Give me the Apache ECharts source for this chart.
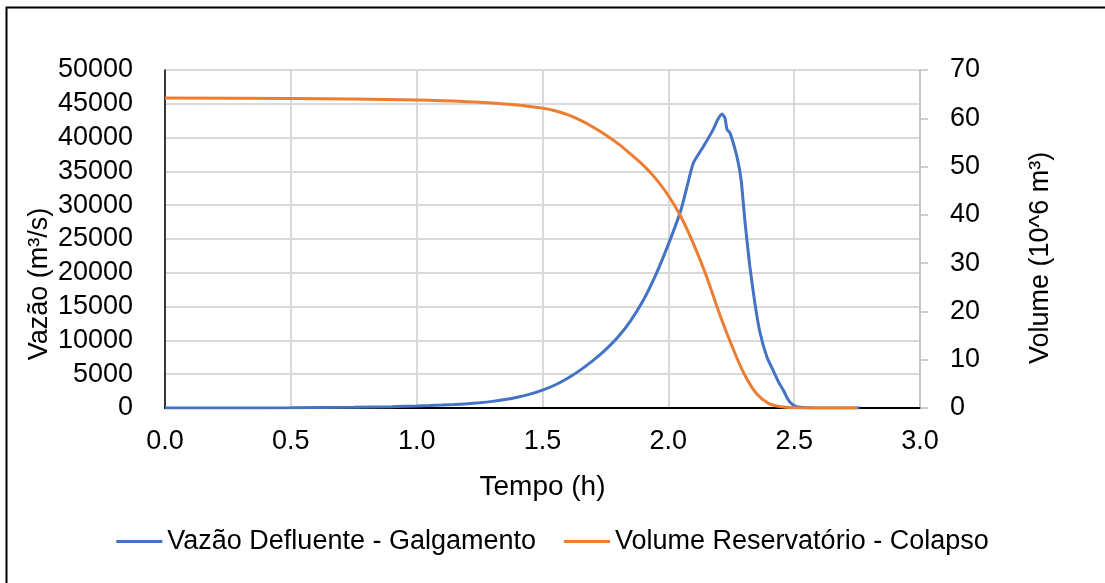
<!DOCTYPE html>
<html>
<head>
<meta charset="utf-8">
<script src="https://cdn.jsdelivr.net/npm/echarts@6/dist/echarts.min.js"></script>
<style>
html,body{margin:0;padding:0;background:#fff;}
#c{width:1105px;height:583px;}
</style>
</head>
<body>
<div id="c"></div>
<script>
// Time (h) for the flow series
var tFlow = [0, 0.25, 0.5, 0.75, 0.9, 1.0, 1.05, 1.1, 1.15, 1.2, 1.25, 1.3, 1.35, 1.4, 1.45, 1.5, 1.55, 1.6, 1.65, 1.7, 1.75, 1.8, 1.85, 1.9, 1.95, 2.0, 2.05, 2.086, 2.1, 2.138, 2.177, 2.197, 2.213, 2.225, 2.233, 2.245, 2.273, 2.289, 2.305, 2.324, 2.344, 2.364, 2.392, 2.416, 2.44, 2.456, 2.475, 2.49, 2.51, 2.55, 2.65, 2.76];
// Vazão Defluente - Galgamento (m³/s)
var flow = [0, 5, 30, 100, 200, 300, 360, 430, 520, 630, 780, 980, 1250, 1600, 2050, 2650, 3400, 4400, 5600, 7000, 8600, 10500, 12900, 15900, 19700, 24200, 29300, 34500, 36300, 38600, 41100, 42700, 43500, 42900, 41200, 40700, 37100, 33800, 27400, 20900, 15500, 11200, 7500, 5600, 3700, 2700, 1300, 600, 200, 50, 10, 0];
// Time (h) for the volume series
var tVol = [0, 0.5, 0.75, 1.0, 1.1, 1.2, 1.3, 1.35, 1.4, 1.45, 1.5, 1.55, 1.6, 1.65, 1.7, 1.75, 1.8, 1.85, 1.9, 1.95, 2.0, 2.05, 2.1, 2.15, 2.2, 2.25, 2.3, 2.35, 2.4, 2.45, 2.5, 2.55, 2.75];
// Volume Reservatório - Colapso (10^6 m³)
var volume = [64.2, 64.1, 64.0, 63.8, 63.65, 63.45, 63.15, 62.95, 62.75, 62.45, 62.1, 61.55, 60.75, 59.6, 58.2, 56.6, 54.75, 52.6, 50.3, 47.5, 44.0, 39.6, 34.0, 27.5, 20.0, 13.2, 7.2, 3.0, 0.9, 0.25, 0.05, 0, 0];

var seriesNames = ['Vazão Defluente - Galgamento', 'Volume Reservatório - Colapso'];
var axisNames = ['Tempo (h)', 'Vazão (m³/s)', 'Volume (10^6 m³)'];

function pairs(xs, ys){ return xs.map(function(x,i){ return [x, ys[i]]; }); }

var FONT = '"Liberation Sans", Arial, sans-serif';
var chart = echarts.init(document.getElementById('c'), null, {renderer:'canvas'});
chart.setOption({
  animation: false,
  backgroundColor: '#fff',
  graphic: [{
    type: 'rect', left: 4, top: 5, silent: true,
    shape: {width: 1120, height: 600},
    style: {fill: 'none', stroke: '#000', lineWidth: 2}
  }, {
    type: 'text', x: 40, y: 284, rotation: Math.PI / 2, silent: true,
    style: {text: axisNames[1], font: '27px ' + FONT, fill: '#000', textAlign: 'center', textVerticalAlign: 'middle'}
  }, {
    type: 'text', x: 1041, y: 258, rotation: Math.PI / 2, silent: true,
    style: {text: axisNames[2], font: '27px ' + FONT, fill: '#000', textAlign: 'center', textVerticalAlign: 'middle'}
  }],
  grid: {left: 165, right: 185, top: 70, bottom: 175, containLabel: false},
  legend: {
    top: 523, left: 'center',
    itemWidth: 46, itemHeight: 3, itemGap: 28,
    icon: 'rect',
    textStyle: {fontFamily: FONT, fontSize: 27, color: '#000'},
    data: seriesNames
  },
  xAxis: {
    type: 'value', min: 0, max: 3, interval: 0.5,
    name: axisNames[0], nameLocation: 'middle', nameGap: 65,
    nameTextStyle: {fontFamily: FONT, fontSize: 28, color: '#000'},
    axisLine: {show: true, lineStyle: {color: '#000', width: 2}},
    axisTick: {show: false},
    axisLabel: {fontFamily: FONT, fontSize: 27, color: '#000', margin: 20,
      formatter: function(v){ return v.toFixed(1); }},
    splitLine: {show: true, lineStyle: {color: '#d9d9d9', width: 2}}
  },
  yAxis: [{
    type: 'value', min: 0, max: 50000, interval: 5000,
    axisLine: {show: true, lineStyle: {color: '#000', width: 1.5}},
    axisTick: {show: false},
    axisLabel: {fontFamily: FONT, fontSize: 27, color: '#000', margin: 32,
      formatter: function(v){ return String(v); }},
    splitLine: {show: true, lineStyle: {color: '#d9d9d9', width: 2}}
  }, {
    type: 'value', min: 0, max: 70, interval: 10, position: 'right',
    axisLine: {show: true, lineStyle: {color: '#bfbfbf', width: 1.5}},
    axisTick: {show: true, length: 8, lineStyle: {color: '#bfbfbf', width: 1.5}},
    axisLabel: {fontFamily: FONT, fontSize: 27, color: '#000', margin: 30},
    splitLine: {show: false}
  }],
  series: [{
    name: seriesNames[0], type: 'line', yAxisIndex: 0,
    data: pairs(tFlow, flow), showSymbol: false, smooth: 0.2,
    lineStyle: {color: '#4472C4', width: 3}, itemStyle: {color: '#4472C4'}
  }, {
    name: seriesNames[1], type: 'line', yAxisIndex: 1,
    data: pairs(tVol, volume), showSymbol: false, smooth: 0.3,
    lineStyle: {color: '#ED7D31', width: 3}, itemStyle: {color: '#ED7D31'}
  }]
});
</script>
</body>
</html>
